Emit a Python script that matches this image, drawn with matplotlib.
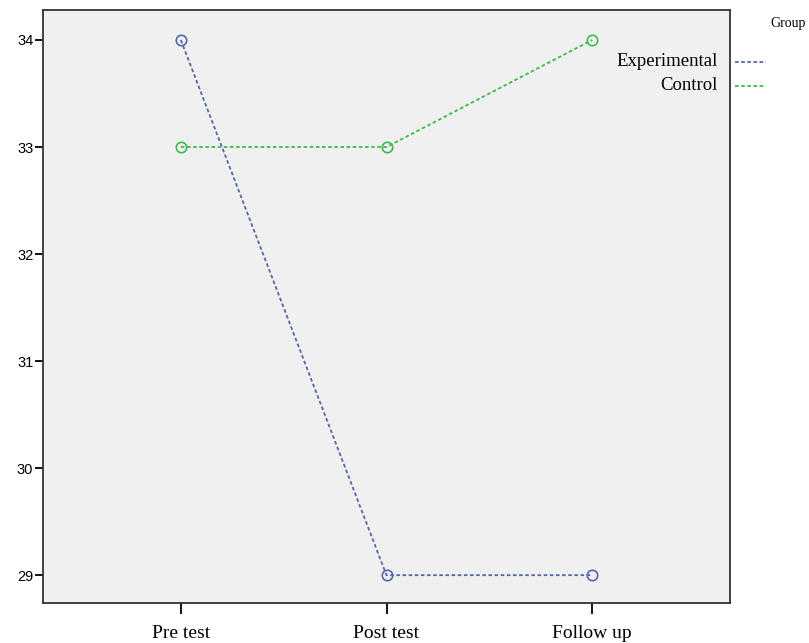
import matplotlib
matplotlib.use("Agg")
import matplotlib.pyplot as plt

# data
phases = ["Pre test", "Post test", "Follow up"]
experimental = [34, 29, 29]
control = [33, 33, 34]
groups = ["Experimental", "Control"]
colors = ["#5566aa", "#3dbb4a"]
y_ticks = [29, 30, 31, 32, 33, 34]

fig = plt.figure(figsize=(8.09, 6.43), dpi=100)
ax = fig.add_axes([43 / 809, 40 / 643, 687 / 809, 593 / 643])
ax.set_facecolor("#f0f0f0")

x = range(len(phases))
for vals, col in zip([experimental, control], colors):
    ax.plot(x, vals, linestyle=(0, (2.0, 1.4)), color=col, linewidth=1.3,
            marker="o", markersize=7.5, markerfacecolor="none",
            markeredgecolor=col, markeredgewidth=1.2)

ax.set_xlim(-0.67, 2.67)
ax.set_ylim(28.74, 34.28)
ax.set_xticks(list(x))
ax.set_xticklabels(phases, family="Liberation Serif", fontsize=14)
ax.set_yticks(y_ticks)
ax.set_yticklabels([str(v) for v in y_ticks], family="Liberation Sans", fontsize=10.5)
ax.tick_params(axis="y", length=6, width=1.3, pad=1)
ax.tick_params(axis="x", length=8, width=1.3, pad=8)
for s in ax.spines.values():
    s.set_linewidth(1.3)
    s.set_color("#333333")

# legend drawn by hand like the original
fig.text(788 / 809, 1 - 24 / 643, "Group", ha="center", va="center",
         family="Liberation Serif", fontsize=10)
for i, (g, col) in enumerate(zip(groups, colors)):
    yy = 1 - (62 + 24 * i) / 643
    fig.text(718 / 809, yy, g, ha="right", va="center",
             family="Liberation Serif", fontsize=13.5)
    fig.lines.append(plt.Line2D([735 / 809, 766 / 809], [yy, yy],
                                transform=fig.transFigure, color=col,
                                linestyle=(0, (2.0, 1.4)), linewidth=1.3))

fig.savefig("out.png", dpi=100)
